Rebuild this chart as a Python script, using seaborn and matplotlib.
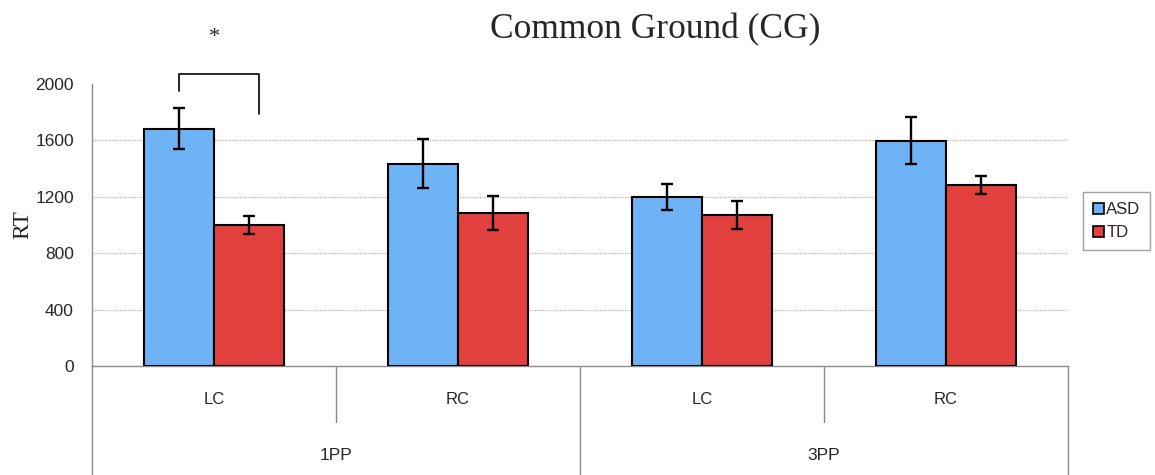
import matplotlib
matplotlib.use("Agg")   # headless backend

import matplotlib.pyplot as plt
from matplotlib.patches import Patch
import pandas as pd
import seaborn as sns

# ── Data ─────────────────────────────────────────────────────────────────────
perspectives = ["1PP", "1PP", "3PP", "3PP"]
contexts = ["LC", "RC", "LC", "RC"]
groups = ["ASD", "TD"]
rt_asd = [1682, 1435, 1198, 1598]
rt_td = [1001, 1083, 1073, 1281]
err_asd = [145, 172, 95, 165]
err_td = [63, 120, 98, 63]
yticks = [0, 400, 800, 1200, 1600, 2000]

# significance bracket over 1PP / LC (RT units)
bracket_top = 2070
bracket_left_end = 1950
bracket_right_end = 1790
star_y = 2330

palette = {"ASD": "#6fb3f7", "TD": "#e2403e"}

# ── Style ────────────────────────────────────────────────────────────────────
sns.set_style("white")
plt.rcParams["font.family"] = ["Liberation Sans", "DejaVu Sans"]
GRAY = "#8a8a8a"

df = pd.DataFrame({
    "condition": [f"{p} {c}" for p, c in zip(perspectives, contexts)] * 2,
    "group": ["ASD"] * len(rt_asd) + ["TD"] * len(rt_td),
    "rt": rt_asd + rt_td,
    "err": err_asd + err_td,
})

fig = plt.figure(figsize=(11.55, 4.75), dpi=100)
ax = fig.add_axes([92 / 1155, 1 - 366 / 475, 976 / 1155, 282 / 475])

sns.barplot(
    data=df, x="condition", y="rt", hue="group", palette=palette,
    saturation=1, width=0.574, edgecolor="black", linewidth=1.5,
    errorbar=None, legend=False, ax=ax, zorder=3,
)

# error bars at the centre of each drawn bar
bars = list(ax.patches)
centres = [b.get_x() + b.get_width() / 2 for b in bars]
ax.errorbar(centres, df["rt"], yerr=df["err"], fmt="none", ecolor="black",
            elinewidth=1.7, capsize=4.5, capthick=1.7, zorder=4)

ax.set_xlim(-0.5, len(contexts) - 0.5)
ax.set_ylim(yticks[0], yticks[-1])
ax.set_yticks(yticks)
for y in yticks[1:-1]:
    ax.axhline(y, color="#b5b5b5", lw=0.9, ls=(0, (1, 1)), zorder=1)

for side in ["top", "right"]:
    ax.spines[side].set_visible(False)
for side in ["left", "bottom"]:
    ax.spines[side].set_color(GRAY)
    ax.spines[side].set_linewidth(1.0)

ax.tick_params(axis="y", length=5, width=1, color=GRAY, pad=8, labelsize=12.5)
ax.set_xticks(range(len(contexts)))
ax.set_xticklabels(contexts)
ax.tick_params(axis="x", length=0, pad=19, labelsize=12)
ax.set_xlabel("")
ax.set_ylabel("RT", family="Liberation Serif", fontsize=17)
ax.yaxis.set_label_coords(-0.06, 0.5)

# ── Two-level category table below the axis ─────────────────────────────────
tr = ax.get_xaxis_transform()
n = len(contexts)
for i in range(n + 1):
    xb = i - 0.5
    bottom = -0.387 if i % 2 == 0 else -0.198
    ax.plot([xb, xb], [0, bottom], transform=tr, color=GRAY, lw=1.0, clip_on=False)
for j in range(0, n, 2):
    ax.text(j + 0.5, -0.318, perspectives[j], transform=tr, ha="center",
            va="center", fontsize=12.5)

# ── Significance bracket ────────────────────────────────────────────────────
x_l, x_r = centres[0], centres[n] + 0.04
ax.plot([x_l, x_l, x_r, x_r],
        [bracket_left_end, bracket_top, bracket_top, bracket_right_end],
        color="black", lw=1.2, clip_on=False)
ax.text((x_l + x_r) / 2 - 0.02, star_y, "*", ha="center", va="center",
        family="Liberation Serif", fontsize=16)

# ── Title and legend ────────────────────────────────────────────────────────
fig.text(0.567, 0.937, "Common Ground (CG)", ha="center", va="center",
         family="Liberation Serif", fontsize=25.5)

handles = [Patch(facecolor=palette[g], edgecolor="black", lw=1.2) for g in groups]
fig.legend(handles, groups, loc="upper left",
           bbox_to_anchor=(1083 / 1155, 1 - 192 / 475), frameon=True,
           fancybox=False, edgecolor=GRAY, fontsize=12, handlelength=0.65,
           handleheight=0.65, handletextpad=0.15, labelspacing=0.5,
           borderpad=0.6, borderaxespad=0)

fig.savefig("out.png", dpi=100)
plt.close(fig)
